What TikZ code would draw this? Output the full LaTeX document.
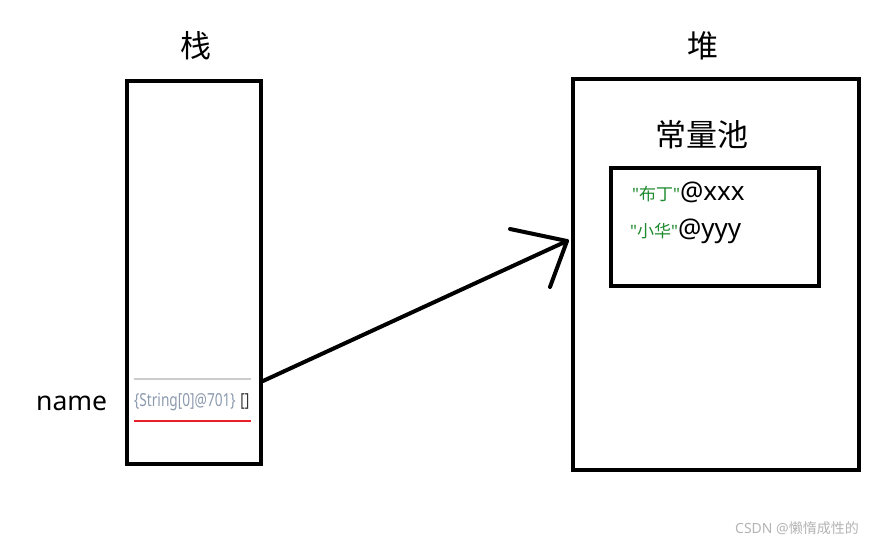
\documentclass[tikz,border=0pt]{standalone}
\usepackage{fontspec}
\setmainfont{Noto Sans}
\newfontfamily\cjk{Noto Sans CJK SC}
\newfontfamily\plainsans{Noto Sans}[Ligatures=TeXOff]
\definecolor{strgreen}{HTML}{1E8A2E}
\definecolor{dbgray}{HTML}{8C9AAE}
\definecolor{wmgray}{HTML}{B4B4B4}
\definecolor{lred}{HTML}{E8202A}
\newcommand{\sq}{{\plainsans\symbol{34}}}
\begin{document}
\begin{tikzpicture}[x=1pt,y=-1pt,
  frame/.style={draw=black,line width=4pt},
  title/.style={font=\cjk\fontsize{31}{34}\selectfont},
  txt/.style={inner sep=0pt,anchor=west}]
\useasboundingbox (0,0) rectangle (887,545);
\node[frame,minimum width=134pt,minimum height=383pt,inner sep=0pt] (stack) at (194,272.5) {};
\node[frame,minimum width=286pt,minimum height=391pt,inner sep=0pt] (heap) at (716,274.5) {};
\node[draw=black,line width=3.5pt,minimum width=208pt,minimum height=118pt,inner sep=0pt] (pool) at (715,227) {};
\node[title] (stitle) at (196,46) {栈};
\node[title] (htitle) at (703,46) {堆};
\node[title] (ptitle) at (702,135) {常量池};
\node[txt,font=\fontsize{26.5}{28}\selectfont] (name) at (36,403) {name};
\node[txt] (s1) at (632,192) {\textcolor{strgreen}{\fontsize{17}{20}\selectfont\sq{\cjk 布丁}\sq}\fontsize{26}{28}\selectfont @xxx};
\node[txt] (s2) at (630,231) {\textcolor{strgreen}{\fontsize{17}{20}\selectfont\sq{\cjk 小华}\sq}\fontsize{26}{28}\selectfont @yyy};
\node[txt,text=dbgray,font=\fontsize{18}{20}\selectfont] (slot) at (134,402) {\scalebox{0.76}[1]{\{String[0]@701\}} \textcolor{black!80}{\scalebox{0.76}[1]{[]}}};
\coordinate (gl1) at (134,379); \coordinate (gl2) at (251,379);
\coordinate (rl1) at (134,421); \coordinate (rl2) at (251,421);
\draw[black!20,line width=2pt] (gl1) -- (gl2);
\draw[lred,line width=2pt] (rl1) -- (rl2);
\coordinate (astart) at (263,381);
\coordinate (atip) at (567,241);
\coordinate (ah1) at (510,229);
\coordinate (ah2) at (550,287);
\draw[line width=4pt,line cap=round,line join=round] (astart) -- (atip);
\draw[line width=4pt,line cap=round,line join=round] (ah1) -- (atip) -- (ah2);
\node[txt,text=wmgray,font=\fontsize{14}{16}\selectfont] (wm) at (735,528) {CSDN @{\cjk 懒惰成性的}};
\end{tikzpicture}
\end{document}
